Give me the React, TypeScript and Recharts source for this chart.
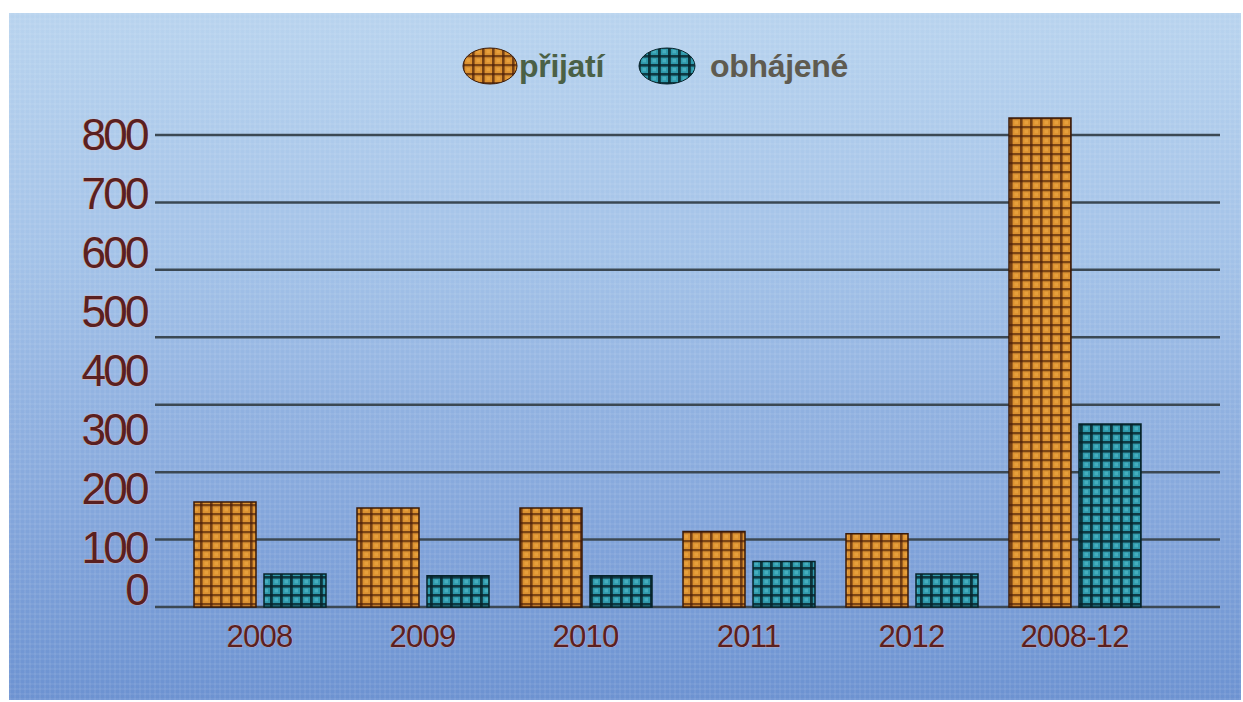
import React from "react";
import { BarChart, Bar, XAxis, YAxis, CartesianGrid } from "recharts";

const categories = ["2008", "2009", "2010", "2011", "2012", "2008-12"];
const prijati = [178, 168, 168, 128, 124, 829];
const obhajene = [56, 53, 53, 77, 56, 310];
const seriesNames = ["přijatí", "obhájené"];
const yTicks = [0, 100, 200, 300, 400, 500, 600, 700, 800];
const yMax = 850;
const gridSteps = 7;
const gridTop = 800;

const data = categories.map((c, i) => ({ name: c, prijati: prijati[i], obhajene: obhajene[i] }));
const gridValues = Array.from({ length: gridSteps + 1 }, (_, k) => (gridTop / gridSteps) * k);

const LABEL = "#5a2020";

const gridGenerator = (p: any) => {
  const off = p.offset || {};
  const top = off.top ?? 0;
  const h = off.height ?? 0;
  const sc = p.yAxis && typeof p.yAxis.scale === "function" ? p.yAxis.scale : null;
  return gridValues.map((v) => (sc ? sc(v) : top + h * (1 - v / yMax)));
};

const YTick = (props: any) => {
  const { x, y, payload } = props;
  const dy = payload.value === 0 ? -2 : 15;
  return (
    <text
      x={x}
      y={y}
      dy={dy}
      textAnchor="end"
      fill={LABEL}
      stroke="#e6b0a6"
      strokeWidth={0.7}
      paintOrder="stroke"
      fontFamily="'Liberation Sans', Arial, sans-serif"
      fontSize={44}
      letterSpacing={-2.6}
    >
      {payload.value}
    </text>
  );
};

const XTick = (props: any) => {
  const { x, y, payload } = props;
  return (
    <text
      x={x}
      y={y}
      dy={32}
      textAnchor="middle"
      fill={LABEL}
      stroke="#e6b0a6"
      strokeWidth={0.5}
      paintOrder="stroke"
      fontFamily="'Liberation Sans', Arial, sans-serif"
      fontSize={31}
      letterSpacing={-0.8}
    >
      {payload.value}
    </text>
  );
};

const Patterns = () => (
  <svg width={0} height={0} style={{ position: "absolute" }}>
    <defs>
      <pattern id="pOrange" patternUnits="userSpaceOnUse" width={10} height={9}>
        <rect width={10} height={9} fill="#db9130" />
        <rect x={0} y={0} width={2.6} height={9} fill="#4a1e08" opacity={0.7} />
        <rect x={0} y={0} width={10} height={2.3} fill="#4a1e08" opacity={0.65} />
        <rect x={4.5} y={3.8} width={3.5} height={3.5} fill="#efaa44" opacity={0.6} />
      </pattern>
      <pattern id="pTeal" patternUnits="userSpaceOnUse" width={10} height={9}>
        <rect width={10} height={9} fill="#2e98aa" />
        <rect x={0} y={0} width={2.8} height={9} fill="#06232a" opacity={0.85} />
        <rect x={0} y={0} width={10} height={2.6} fill="#06232a" opacity={0.8} />
        <rect x={4.5} y={3.8} width={3.5} height={3.5} fill="#55bccb" opacity={0.6} />
      </pattern>
    </defs>
  </svg>
);

const LegendOverlay = () => (
  <div
    style={{
      position: "absolute",
      left: 462,
      top: 46,
      display: "flex",
      alignItems: "center",
      fontFamily: "'Liberation Sans', Arial, sans-serif",
      fontWeight: 700,
      fontSize: 32,
    }}
  >
    <svg width={56} height={40}>
      <ellipse cx={28} cy={20} rx={27} ry={18} fill="url(#pOrange)" stroke="#3a1a08" strokeWidth={1} />
    </svg>
    <span style={{ color: "#4b6146", marginLeft: 1, marginRight: 34, letterSpacing: -0.3 }}>{seriesNames[0]}</span>
    <svg width={58} height={40}>
      <ellipse cx={29} cy={20} rx={28} ry={18} fill="url(#pTeal)" stroke="#06232a" strokeWidth={1} />
    </svg>
    <span style={{ color: "#5f5b50", marginLeft: 14, letterSpacing: -0.3 }}>{seriesNames[1]}</span>
  </div>
);

export default function App() {
  return (
    <div style={{ position: "absolute", left: 0, top: 0, width: 1243, height: 702, background: "#ffffff" }}>
      <Patterns />
      <div
        style={{
          position: "absolute",
          left: 9,
          top: 13,
          width: 1232,
          height: 687,
          background:
            "repeating-linear-gradient(0deg, rgba(255,255,255,0.06) 0px, rgba(255,255,255,0.06) 2px, rgba(0,0,0,0) 2px, rgba(0,0,0,0) 5px), repeating-linear-gradient(90deg, rgba(255,255,255,0.06) 0px, rgba(255,255,255,0.06) 2px, rgba(0,0,0,0) 2px, rgba(0,0,0,0) 5px), linear-gradient(180deg, #b8d3ee 0%, #a3c2e8 35%, #86a8dc 70%, #6c92d1 100%)",
        }}
      />
      <LegendOverlay />
      <div style={{ position: "absolute", left: 0, top: 0 }}>
        <BarChart
          width={1243}
          height={702}
          data={data}
          margin={{ top: 105.5, right: 23, bottom: 35, left: 0 }}
          barSize={62}
          barGap={8}
        >
          <CartesianGrid
            vertical={false}
            stroke="#3b4853"
            strokeWidth={2.5}
            horizontalCoordinatesGenerator={gridGenerator}
          />
          <XAxis
            dataKey="name"
            height={60}
            axisLine={false}
            tickLine={false}
            padding={{ left: 23, right: 64 }}
            tick={<XTick />}
            interval={0}
          />
          <YAxis
            width={155}
            domain={[0, yMax]}
            ticks={yTicks}
            axisLine={false}
            tickLine={false}
            tick={<YTick />}
            interval={0}
          />
          <Bar dataKey="prijati" name={seriesNames[0]} fill="url(#pOrange)" stroke="#3a1a08" strokeWidth={1.5} isAnimationActive={false} />
          <Bar dataKey="obhajene" name={seriesNames[1]} fill="url(#pTeal)" stroke="#06232a" strokeWidth={1.5} isAnimationActive={false} />
        </BarChart>
      </div>
    </div>
  );
}
